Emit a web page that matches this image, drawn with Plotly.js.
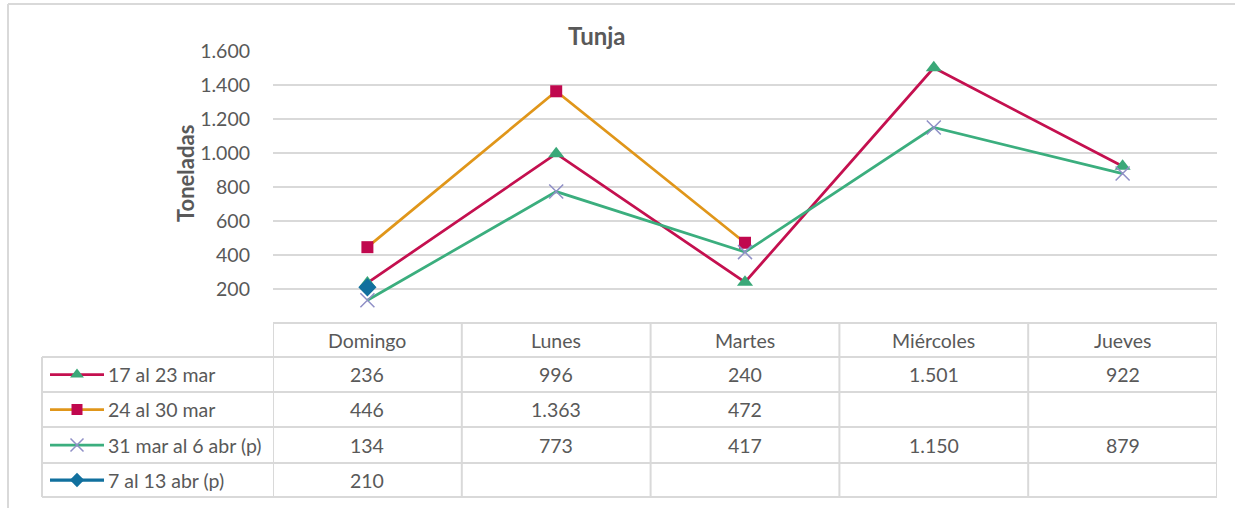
<!DOCTYPE html>
<html>
<head>
<meta charset="utf-8">
<script src="https://cdn.plot.ly/plotly-3.0.1.min.js"></script>
<style>html,body{margin:0;padding:0;background:#fff;}#chart{width:1235px;height:508px;}</style>
</head>
<body>
<div id="chart"></div>
<script>
// ---- data ----
const categories = ["Domingo", "Lunes", "Martes", "Miércoles", "Jueves"];
const seriesNames = ["17 al 23 mar", "24 al 30 mar", "31 mar al 6 abr (p)", "7 al 13 abr (p)"];
const s1 = [236, 996, 240, 1501, 922];
const s2 = [446, 1363, 472, null, null];
const s3 = [134, 773, 417, 1150, 879];
const s4 = [210, null, null, null, null];
const yTicks = [200, 400, 600, 800, 1000, 1200, 1400, 1600];

// ---- styles ----
const W = 1235, H = 508;
const FONT = "Lato, 'Liberation Sans', sans-serif";
const TXT = "#595959";
const GRID = "#D9D9D9";
const FS = 19.5;
const styles = [
  {line: "#C4104F", width: 2.75, marker: {symbol: "triangle-up", size: 14, color: "#3AA878"}, key: 12},
  {line: "#E0961A", width: 2.75, marker: {symbol: "square", size: 12, color: "#C0084E"}, key: 11},
  {line: "#3BAE7E", width: 2.75, marker: {symbol: "x-thin", size: 14, color: "#8F8FC6", line: {color: "#8F8FC6", width: 1.5}}, key: 13},
  {line: "#11709E", width: 3.25, marker: {symbol: "diamond", size: 14, color: "#11709E"}, key: 11}
];
const allSeries = [s1, s2, s3, s4];

const px = x => x / W;
const py = y => 1 - y / H;
const fmt = v => (v === null || v === undefined) ? "" : String(v).replace(/\B(?=(\d{3})+(?!\d))/g, ".");

const traces = allSeries.map((vals, i) => ({
  type: "scatter", mode: "lines+markers",
  x: categories.map((c, k) => k), y: vals, name: seriesNames[i],
  line: {color: styles[i].line, width: styles[i].width},
  marker: styles[i].marker,
  connectgaps: false, showlegend: false, hoverinfo: "skip",
  xaxis: "x", yaxis: "y"
}));

// table geometry (pixels)
const tableLeft = 42, plotLeft = 273, plotRight = 1217;
const rowEdges = [323, 357, 392, 427, 463, 497];
const rowCenter = k => (rowEdges[k] + rowEdges[k + 1]) / 2;

// legend keys in the table, on a free pixel axis
allSeries.forEach((vals, i) => {
  const yc = rowCenter(i + 1);
  traces.push({
    type: "scatter", mode: "lines", x: [50, 104], y: [yc, yc],
    line: {color: styles[i].line, width: styles[i].width},
    showlegend: false, hoverinfo: "skip", xaxis: "x2", yaxis: "y2", cliponaxis: false
  });
  traces.push({
    type: "scatter", mode: "markers", x: [77], y: [yc],
    marker: Object.assign({}, styles[i].marker, {size: styles[i].key, opacity: 1}),
    showlegend: false, hoverinfo: "skip", xaxis: "x2", yaxis: "y2", cliponaxis: false
  });
});

const shapes = [];
const gl = {color: GRID, width: 2};
shapes.push({type: "line", xref: "paper", yref: "paper", x0: px(plotLeft), x1: px(plotRight), y0: py(rowEdges[0]), y1: py(rowEdges[0]), line: gl});
for (let k = 1; k < rowEdges.length; k++) {
  shapes.push({type: "line", xref: "paper", yref: "paper", x0: px(tableLeft), x1: px(plotRight), y0: py(rowEdges[k]), y1: py(rowEdges[k]), line: gl});
}
shapes.push({type: "line", xref: "paper", yref: "paper", x0: px(tableLeft), x1: px(tableLeft), y0: py(rowEdges[1]), y1: py(rowEdges[5]), line: gl});
for (let c = 0; c <= categories.length; c++) {
  shapes.push({type: "line", xref: "x", yref: "paper", x0: c - 0.5, x1: c - 0.5, y0: py(rowEdges[0]), y1: py(rowEdges[5]), line: gl});
}
// outer chart border (top and left)
shapes.push({type: "line", xref: "paper", yref: "paper", x0: px(8), x1: 1, y0: py(4), y1: py(4), line: {color: GRID, width: 2}});
shapes.push({type: "line", xref: "paper", yref: "paper", x0: px(8), x1: px(8), y0: py(4), y1: 0, line: {color: GRID, width: 2}});

const annotations = [];
categories.forEach((c, k) => annotations.push({
  xref: "x", yref: "paper", x: k, y: py(rowCenter(0)), text: c, showarrow: false,
  font: {family: FONT, size: FS, color: TXT}, xanchor: "center", yanchor: "middle"
}));
allSeries.forEach((vals, i) => {
  annotations.push({
    xref: "paper", yref: "paper", x: px(106), y: py(rowCenter(i + 1)), text: seriesNames[i], showarrow: false,
    font: {family: FONT, size: FS, color: TXT}, xanchor: "left", yanchor: "middle"
  });
  vals.forEach((v, k) => annotations.push({
    xref: "x", yref: "paper", x: k, y: py(rowCenter(i + 1)), text: fmt(v), showarrow: false,
    font: {family: FONT, size: FS, color: TXT}, xanchor: "center", yanchor: "middle"
  }));
});
annotations.push({xref: "paper", yref: "paper", x: px(597), y: py(36), text: "<b>Tunja</b>", showarrow: false,
  font: {family: FONT, size: 24, color: TXT}, xanchor: "center", yanchor: "middle"});
annotations.push({xref: "paper", yref: "paper", x: px(185), y: py(174), text: "<b>Toneladas</b>", showarrow: false,
  textangle: -90, font: {family: FONT, size: 22, color: TXT}, xanchor: "center", yanchor: "middle"});

const layout = {
  width: W, height: H,
  margin: {l: 0, r: 0, t: 0, b: 0},
  paper_bgcolor: "#fff", plot_bgcolor: "rgba(0,0,0,0)",
  separators: ",.",
  showlegend: false,
  xaxis: {domain: [px(plotLeft), px(plotRight)], range: [-0.5, 4.5], showgrid: false, zeroline: false,
    showticklabels: false, showline: false, fixedrange: true},
  yaxis: {domain: [py(rowEdges[0]), py(51)], range: [0, 1600], tickvals: yTicks, tickformat: ",d",
    showgrid: true, gridcolor: GRID, gridwidth: 2, zeroline: false, showline: false,
    ticks: "", ticklabelstandoff: 22, tickfont: {family: FONT, size: FS, color: TXT}, fixedrange: true},
  xaxis2: {domain: [0, 1], range: [0, W], visible: false, anchor: "y2", fixedrange: true},
  yaxis2: {domain: [0, 1], range: [H, 0], visible: false, anchor: "x2", fixedrange: true},
  shapes: shapes,
  annotations: annotations
};

Plotly.newPlot("chart", traces, layout, {displayModeBar: false, staticPlot: true});
</script>
</body>
</html>
